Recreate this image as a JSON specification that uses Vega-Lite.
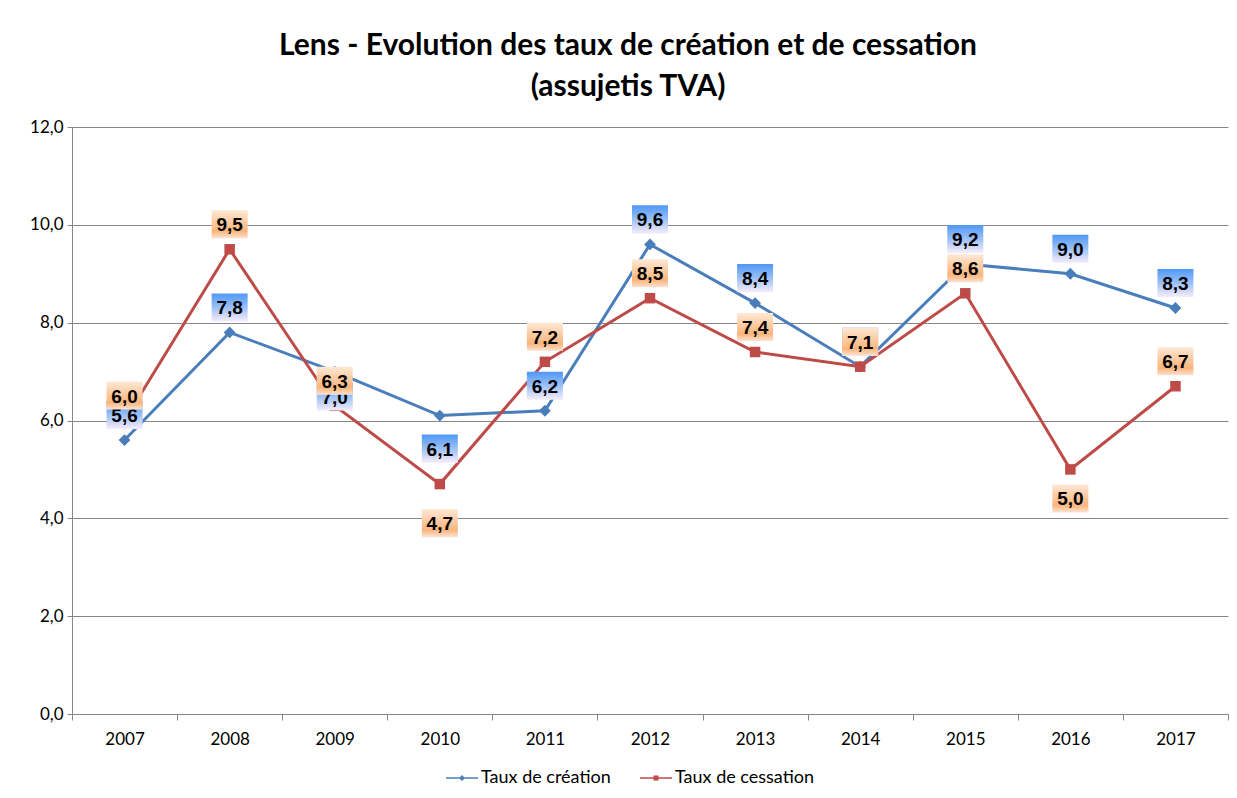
{
  "$schema": "https://vega.github.io/schema/vega-lite/v6.json",
  "width": 1156,
  "height": 587,
  "autosize": {"type": "none"},
  "padding": {"left": 72, "top": 127, "right": 9, "bottom": 84},
  "background": "white",
  "title": {
    "text": ["Lens - Evolution des taux de création et de cessation", "(assujetis TVA)"],
    "font": "Lato",
    "fontSize": 30,
    "fontWeight": "bold",
    "color": "#000000",
    "anchor": "middle",
    "frame": "group",
    "offset": 16,
    "lineHeight": 41,
    "dx": -22
  },
  "data": {
    "values": [
      {"year": "2007", "serie": "Taux de création", "value": 5.6},
      {"year": "2008", "serie": "Taux de création", "value": 7.8},
      {"year": "2009", "serie": "Taux de création", "value": 7.0},
      {"year": "2010", "serie": "Taux de création", "value": 6.1},
      {"year": "2011", "serie": "Taux de création", "value": 6.2},
      {"year": "2012", "serie": "Taux de création", "value": 9.6},
      {"year": "2013", "serie": "Taux de création", "value": 8.4},
      {"year": "2014", "serie": "Taux de création", "value": 7.1},
      {"year": "2015", "serie": "Taux de création", "value": 9.2},
      {"year": "2016", "serie": "Taux de création", "value": 9.0},
      {"year": "2017", "serie": "Taux de création", "value": 8.3},
      {"year": "2007", "serie": "Taux de cessation", "value": 6.0},
      {"year": "2008", "serie": "Taux de cessation", "value": 9.5},
      {"year": "2009", "serie": "Taux de cessation", "value": 6.3},
      {"year": "2010", "serie": "Taux de cessation", "value": 4.7},
      {"year": "2011", "serie": "Taux de cessation", "value": 7.2},
      {"year": "2012", "serie": "Taux de cessation", "value": 8.5},
      {"year": "2013", "serie": "Taux de cessation", "value": 7.4},
      {"year": "2014", "serie": "Taux de cessation", "value": 7.1},
      {"year": "2015", "serie": "Taux de cessation", "value": 8.6},
      {"year": "2016", "serie": "Taux de cessation", "value": 5.0},
      {"year": "2017", "serie": "Taux de cessation", "value": 6.7}
    ]
  },
  "encoding": {
    "x": {
      "field": "year",
      "type": "ordinal",
      "scale": {"type": "band", "paddingInner": 0, "paddingOuter": 0},
      "axis": {
        "title": null,
        "labelAngle": 0,
        "labelFont": "Lato",
        "labelFontSize": 17,
        "labelColor": "#000000",
        "labelPadding": 11,
        "tickBand": "extent",
        "tickSize": 6,
        "tickColor": "#868686",
        "domainColor": "#868686",
        "grid": false
      }
    },
    "y": {
      "field": "value",
      "type": "quantitative",
      "scale": {"domain": [0, 12], "nice": false, "zero": true},
      "axis": {
        "title": null,
        "values": [0, 2, 4, 6, 8, 10, 12],
        "format": ".1f",
        "labelFont": "Lato",
        "labelFontSize": 17,
        "labelColor": "#000000",
        "labelPadding": 4,
        "tickSize": 5,
        "tickColor": "#868686",
        "domainColor": "#868686",
        "grid": true,
        "gridColor": "#868686",
        "gridWidth": 1
      }
    }
  },
  "layer": [
    {
      "mark": {"type": "line", "strokeWidth": 3},
      "encoding": {
        "color": {
          "field": "serie",
          "type": "nominal",
          "scale": {"domain": ["Taux de création", "Taux de cessation"], "range": ["#4A7EBB", "#BE4B48"]},
          "legend": {
            "orient": "none",
            "legendX": 380,
            "legendY": 641,
            "direction": "horizontal",
            "title": null,
            "symbolSize": 400,
            "symbolOpacity": 1,
            "symbolStrokeWidth": 0,
            "labelFont": "Lato",
            "labelFontSize": 18,
            "labelColor": "#000000",
            "columnPadding": 29,
            "labelOffset": 9
          }
        }
      }
    },
    {
      "mark": {"type": "point", "filled": true, "opacity": 1, "size": 0, "strokeWidth": 0},
      "encoding": {
        "color": {"field": "serie", "type": "nominal"},
        "shape": {
          "field": "serie",
          "type": "nominal",
          "scale": {
            "domain": ["Taux de création", "Taux de cessation"],
            "range": [
              "M-1.6,-0.08L1.6,-0.08L1.6,0.08L-1.6,0.08Z M0,-0.3L0.3,0L0,0.3L-0.3,0Z",
              "M-1.6,-0.08L1.6,-0.08L1.6,0.08L-1.6,0.08Z M-0.25,-0.25L0.25,-0.25L0.25,0.25L-0.25,0.25Z"
            ]
          }
        }
      }
    },
    {
      "transform": [{"filter": "datum.serie === 'Taux de création'"}],
      "mark": {"type": "point", "shape": "diamond", "filled": true, "opacity": 1, "size": 140, "color": "#4A7EBB"}
    },
    {
      "transform": [{"filter": "datum.serie === 'Taux de cessation'"}],
      "mark": {"type": "point", "shape": "square", "filled": true, "opacity": 1, "size": 110, "color": "#BE4B48"}
    },
    {
      "transform": [{"filter": "datum.serie === 'Taux de création' && datum.year !== '2009' && datum.year !== '2010'"}],
      "layer": [
        {"mark": {"type": "point", "shape": "M-1,-0.78L1,-0.78L1,0.78L-1,0.78Z", "size": 1296, "filled": true, "opacity": 1, "strokeWidth": 0, "yOffset": -25,
          "fill": {"gradient": "linear", "x1": 0, "y1": 0, "x2": 0, "y2": 1, "stops": [{"offset": 0, "color": "#4f97f7"}, {"offset": 0.5, "color": "#9cc0f6"}, {"offset": 1, "color": "#f6ecfa"}]}}},
        {"mark": {"type": "text", "font": "Liberation Sans", "fontWeight": "bold", "fontSize": 19, "color": "#000000", "baseline": "middle", "yOffset": -24},
          "encoding": {"text": {"field": "value", "type": "quantitative", "format": ".1f"}}}
      ]
    },
    {
      "transform": [{"filter": "datum.serie === 'Taux de création' && datum.year === '2009'"}],
      "layer": [
        {"mark": {"type": "point", "shape": "M-1,-0.78L1,-0.78L1,0.78L-1,0.78Z", "size": 1296, "filled": true, "opacity": 1, "strokeWidth": 0, "yOffset": 25,
          "fill": {"gradient": "linear", "x1": 0, "y1": 0, "x2": 0, "y2": 1, "stops": [{"offset": 0, "color": "#4f97f7"}, {"offset": 0.5, "color": "#9cc0f6"}, {"offset": 1, "color": "#f6ecfa"}]}}},
        {"mark": {"type": "text", "font": "Liberation Sans", "fontWeight": "bold", "fontSize": 19, "color": "#000000", "baseline": "middle", "yOffset": 26},
          "encoding": {"text": {"field": "value", "type": "quantitative", "format": ".1f"}}}
      ]
    },
    {
      "transform": [{"filter": "datum.serie === 'Taux de création' && datum.year === '2010'"}],
      "layer": [
        {"mark": {"type": "point", "shape": "M-1,-0.78L1,-0.78L1,0.78L-1,0.78Z", "size": 1296, "filled": true, "opacity": 1, "strokeWidth": 0, "yOffset": 33,
          "fill": {"gradient": "linear", "x1": 0, "y1": 0, "x2": 0, "y2": 1, "stops": [{"offset": 0, "color": "#4f97f7"}, {"offset": 0.5, "color": "#9cc0f6"}, {"offset": 1, "color": "#f6ecfa"}]}}},
        {"mark": {"type": "text", "font": "Liberation Sans", "fontWeight": "bold", "fontSize": 19, "color": "#000000", "baseline": "middle", "yOffset": 34},
          "encoding": {"text": {"field": "value", "type": "quantitative", "format": ".1f"}}}
      ]
    },
    {
      "transform": [{"filter": "datum.serie === 'Taux de cessation' && datum.year !== '2010' && datum.year !== '2016'"}],
      "layer": [
        {"mark": {"type": "point", "shape": "M-1,-0.78L1,-0.78L1,0.78L-1,0.78Z", "size": 1296, "filled": true, "opacity": 1, "strokeWidth": 0, "yOffset": -25,
          "fill": {"gradient": "linear", "x1": 0, "y1": 0, "x2": 0, "y2": 1, "stops": [{"offset": 0, "color": "#fde9d5"}, {"offset": 0.3, "color": "#fcd3b0"}, {"offset": 0.75, "color": "#f9b57c"}, {"offset": 1, "color": "#fce3d3"}]}}},
        {"mark": {"type": "text", "font": "Liberation Sans", "fontWeight": "bold", "fontSize": 19, "color": "#000000", "baseline": "middle", "yOffset": -24},
          "encoding": {"text": {"field": "value", "type": "quantitative", "format": ".1f"}}}
      ]
    },
    {
      "transform": [{"filter": "datum.serie === 'Taux de cessation' && datum.year === '2016'"}],
      "layer": [
        {"mark": {"type": "point", "shape": "M-1,-0.78L1,-0.78L1,0.78L-1,0.78Z", "size": 1296, "filled": true, "opacity": 1, "strokeWidth": 0, "yOffset": 29,
          "fill": {"gradient": "linear", "x1": 0, "y1": 0, "x2": 0, "y2": 1, "stops": [{"offset": 0, "color": "#fde9d5"}, {"offset": 0.3, "color": "#fcd3b0"}, {"offset": 0.75, "color": "#f9b57c"}, {"offset": 1, "color": "#fce3d3"}]}}},
        {"mark": {"type": "text", "font": "Liberation Sans", "fontWeight": "bold", "fontSize": 19, "color": "#000000", "baseline": "middle", "yOffset": 30},
          "encoding": {"text": {"field": "value", "type": "quantitative", "format": ".1f"}}}
      ]
    },
    {
      "transform": [{"filter": "datum.serie === 'Taux de cessation' && datum.year === '2010'"}],
      "layer": [
        {"mark": {"type": "point", "shape": "M-1,-0.78L1,-0.78L1,0.78L-1,0.78Z", "size": 1296, "filled": true, "opacity": 1, "strokeWidth": 0, "yOffset": 39,
          "fill": {"gradient": "linear", "x1": 0, "y1": 0, "x2": 0, "y2": 1, "stops": [{"offset": 0, "color": "#fde9d5"}, {"offset": 0.3, "color": "#fcd3b0"}, {"offset": 0.75, "color": "#f9b57c"}, {"offset": 1, "color": "#fce3d3"}]}}},
        {"mark": {"type": "text", "font": "Liberation Sans", "fontWeight": "bold", "fontSize": 19, "color": "#000000", "baseline": "middle", "yOffset": 40},
          "encoding": {"text": {"field": "value", "type": "quantitative", "format": ".1f"}}}
      ]
    }
  ],
  "config": {
    "locale": {"number": {"decimal": ",", "thousands": " ", "grouping": [3], "currency": ["", " €"]}},
    "view": {"stroke": null}
  }
}
